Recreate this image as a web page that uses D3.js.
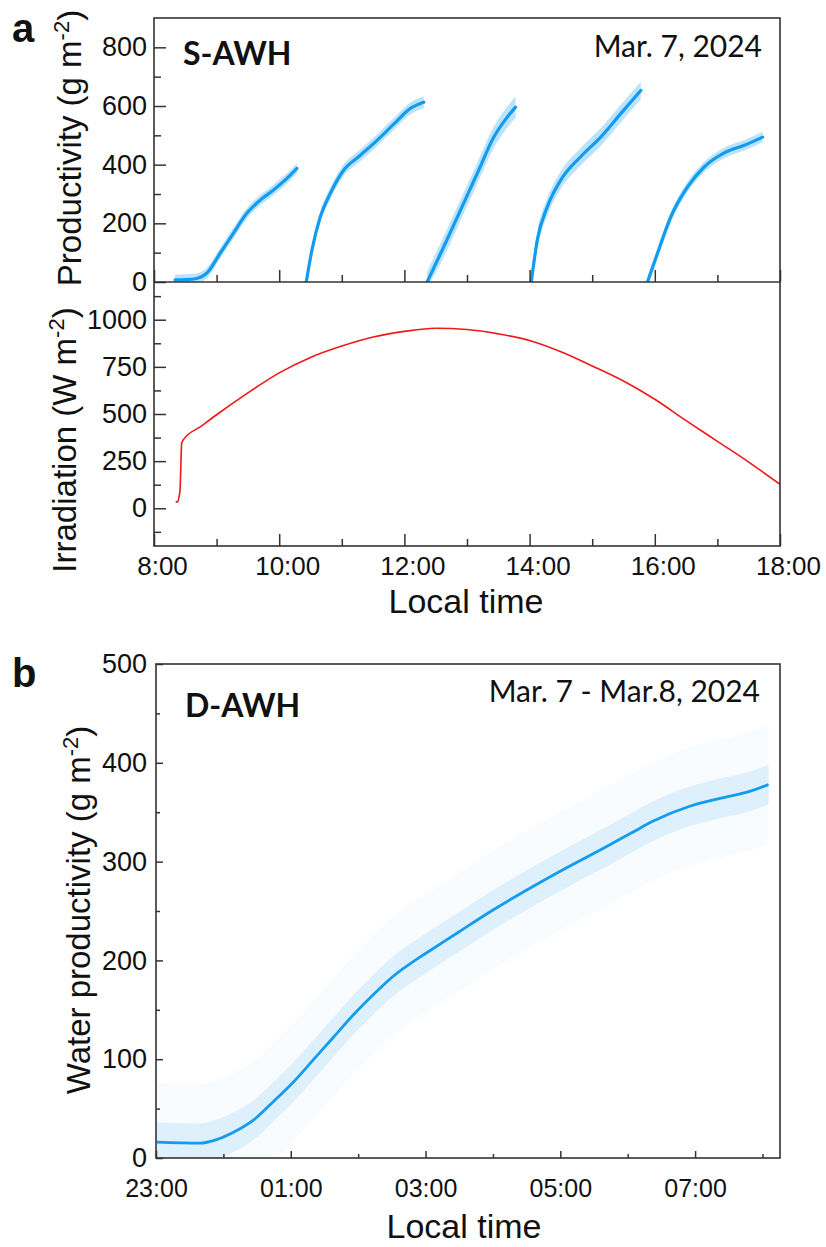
<!DOCTYPE html>
<html>
<head>
<meta charset="utf-8">
<script src="https://cdn.jsdelivr.net/npm/d3@7"></script>
<style>
  html, body { margin: 0; padding: 0; background: #fff; }
  svg { display: block; }
</style>
</head>
<body>
<script>
// ---------------- DATA ----------------
// Panel a, top: S-AWH productivity cycles (time in hours, value in g m^-2)
const cycle1T = [8.336, 8.50, 8.683, 8.843, 9.056, 9.264, 9.483, 9.696, 9.904, 10.123, 10.283];
const cycle1V = [7, 8, 12, 30, 98, 165, 234, 279, 313, 353, 387];
const cycle2T = [10.432, 10.523, 10.656, 10.816, 11.029, 11.296, 11.563, 11.829, 12.096, 12.309];
const cycle2V = [0, 109, 222, 302, 381, 432, 483, 538, 592, 613];
const cycle3T = [12.363, 12.629, 12.896, 13.163, 13.429, 13.643, 13.776];
const cycle3V = [0, 120, 245, 370, 494, 562, 596];
const cycle4T = [14.027, 14.123, 14.283, 14.496, 14.816, 15.136, 15.456, 15.776];
const cycle4V = [0, 143, 256, 347, 427, 494, 574, 653];
const cycle5T = [15.883, 16.043, 16.256, 16.523, 16.789, 17.109, 17.429, 17.723];
const cycle5V = [0, 98, 222, 324, 392, 440, 466, 494];
// half-width of the scatter cloud around each fitted cycle (g m^-2)
const cycleSpread = [18, 20, 36, 30, 18];

// Panel a, bottom: irradiation (W m^-2)
const irrT = [8.347, 8.379, 8.40, 8.416, 8.443, 8.47, 8.75, 9.0, 9.5, 10.0, 10.5, 11.0, 11.5, 12.0, 12.5, 13.0, 13.5, 14.0, 14.5, 15.0, 15.5, 16.0, 16.5, 17.0, 17.5, 18.0];
const irrV = [34, 34, 60, 99, 346, 364, 434, 496, 612, 718, 800, 860, 908, 938, 955, 948, 925, 890, 830, 755, 675, 578, 465, 355, 245, 127];

// Panel b: D-AWH water productivity (hours after 23:00, g m^-2)
const dT = [0.01, 0.65, 0.9, 1.15, 1.44, 1.74, 2.04, 2.33, 2.63, 2.93, 3.22, 3.52, 3.8, 4.0, 4.5, 5.0, 5.6, 6.1, 6.6, 7.08, 7.38, 7.92, 8.37, 8.81, 9.09];
const dV = [16, 15, 18.6, 26, 38, 57, 77, 99, 122, 145, 165, 184, 198, 207, 229, 251, 275, 294, 312, 330, 341, 356, 364, 371, 378];
const dSpreadInner = 20;
const dSpreadOuter = 60;

// Tick values / labels
const xMajorA = [8, 10, 12, 14, 16, 18];
const xMajorLabelsA = ["8:00", "10:00", "12:00", "14:00", "16:00", "18:00"];
const xMinorA = [9, 11, 13, 15, 17];
const yMajorP = [0, 200, 400, 600, 800];
const yMinorP = [100, 300, 500, 700];
const yMajorI = [0, 250, 500, 750, 1000];
const yMinorI = [-125, 125, 375, 625, 875, 1125];
const xMajorB = [0, 2, 4, 6, 8];
const xMajorLabelsB = ["23:00", "01:00", "03:00", "05:00", "07:00"];
const xMinorB = [1, 3, 5, 7, 9];
const yMajorB = [0, 100, 200, 300, 400, 500];
const yMinorB = [50, 150, 250, 350, 450];

// ---------------- LAYOUT ----------------
const W = 826, H = 1247;
const A = { left: 154, right: 780, top: 18, mid: 282, bottom: 546 };
const B = { left: 156, right: 780, top: 664, bottom: 1158 };

const FIT = "#119cf0";
const DOT = "#b5e0fb";
const DOTB = "#c3e4fa";
const AXC = "#333";
const ARIAL = "'Liberation Sans', Arial, sans-serif";
const CALIBRI = "Lato, 'Open Sans', sans-serif";
const fmt = d3.format("d");

const svg = d3.select("body").append("svg").attr("width", W).attr("height", H);

const xA = d3.scaleLinear().domain([8, 18]).range([A.left, A.right]);
const yP = d3.scaleLinear().domain([0, 900]).range([A.mid, A.top]);
const yI = d3.scaleLinear().domain([-200, 1200]).range([A.bottom, A.mid]);
const xB = d3.scaleLinear().domain([0, 9.26]).range([B.left, B.right]);
const yB = d3.scaleLinear().domain([0, 500]).range([B.bottom, B.top]);

function styleAxis(g, fs) {
  g.attr("font-family", ARIAL).attr("font-size", fs);
  g.select(".domain").remove();
  g.selectAll(".tick line").attr("stroke", AXC).attr("stroke-width", 1.5);
  g.selectAll(".tick text").attr("fill", "#111");
}

// clip paths
svg.append("clipPath").attr("id", "clipP").append("rect")
  .attr("x", A.left).attr("y", A.top).attr("width", A.right - A.left).attr("height", A.mid - A.top);
svg.append("clipPath").attr("id", "clipI").append("rect")
  .attr("x", A.left).attr("y", A.mid).attr("width", A.right - A.left).attr("height", A.bottom - A.mid);
svg.append("clipPath").attr("id", "clipB").append("rect")
  .attr("x", B.left).attr("y", B.top).attr("width", B.right - B.left).attr("height", B.bottom - B.top);

// ---------------- PANEL a, TOP ----------------
const cycles = [[cycle1T, cycle1V], [cycle2T, cycle2V], [cycle3T, cycle3V], [cycle4T, cycle4V], [cycle5T, cycle5V]];
const gP = svg.append("g").attr("clip-path", "url(#clipP)");
cycles.forEach(([T, V], i) => {
  const pts = T.map((t, j) => ({ t, v: V[j] }));
  const s = cycleSpread[i];
  const area = d3.area().curve(d3.curveMonotoneX)
    .x(d => xA(d.t)).y0(d => yP(Math.max(d.v - s, -20))).y1(d => yP(d.v + s));
  gP.append("path").datum(pts).attr("d", area).attr("fill", DOT).attr("opacity", 0.9);
  const line = d3.line().curve(d3.curveMonotoneX).x(d => xA(d.t)).y(d => yP(d.v));
  gP.append("path").datum(pts).attr("d", line).attr("fill", "none")
    .attr("stroke", FIT).attr("stroke-width", 3.2).attr("stroke-linecap", "round");
});

// ---------------- PANEL a, BOTTOM ----------------
const irr = irrT.map((t, j) => ({ t, v: irrV[j] }));
svg.append("g").attr("clip-path", "url(#clipI)").append("path").datum(irr)
  .attr("d", d3.line().curve(d3.curveMonotoneX).x(d => xA(d.t)).y(d => yI(d.v)))
  .attr("fill", "none").attr("stroke", "#f01818").attr("stroke-width", 1.6);

// axes panel a: x ticks on the bottom of each sub-panel, pointing inward (up)
[A.mid, A.bottom].forEach((yy, k) => {
  const gMaj = svg.append("g").attr("transform", `translate(0,${yy})`)
    .call(d3.axisBottom(xA).tickValues(xMajorA).tickSizeInner(-12).tickSizeOuter(0)
      .tickPadding(11)
      .tickFormat((d, i) => k === 1 ? xMajorLabelsA[i] : ""));
  styleAxis(gMaj, 26);
  gMaj.selectAll(".tick text").attr("dx", 8);
  const gMin = svg.append("g").attr("transform", `translate(0,${yy})`)
    .call(d3.axisBottom(xA).tickValues(xMinorA).tickSizeInner(-7).tickSizeOuter(0).tickFormat(""));
  styleAxis(gMin, 26);
});
// y axes
const gyP = svg.append("g").attr("transform", `translate(${A.left},0)`)
  .call(d3.axisLeft(yP).tickValues(yMajorP).tickFormat(fmt).tickSizeInner(-12).tickSizeOuter(0));
styleAxis(gyP, 27);
gyP.selectAll(".tick text").attr("x", -7);
styleAxis(svg.append("g").attr("transform", `translate(${A.left},0)`)
  .call(d3.axisLeft(yP).tickValues(yMinorP).tickSizeInner(-7).tickSizeOuter(0).tickFormat("")), 27);
const gyI = svg.append("g").attr("transform", `translate(${A.left},0)`)
  .call(d3.axisLeft(yI).tickValues(yMajorI).tickFormat(fmt).tickSizeInner(-12).tickSizeOuter(0));
styleAxis(gyI, 27);
gyI.selectAll(".tick text").attr("x", -7);
styleAxis(svg.append("g").attr("transform", `translate(${A.left},0)`)
  .call(d3.axisLeft(yI).tickValues(yMinorI).tickSizeInner(-7).tickSizeOuter(0).tickFormat("")), 27);

// frames
svg.append("rect").attr("x", A.left).attr("y", A.top).attr("width", A.right - A.left).attr("height", A.bottom - A.top)
  .attr("fill", "none").attr("stroke", AXC).attr("stroke-width", 1.6);
svg.append("line").attr("x1", A.left).attr("x2", A.right).attr("y1", A.mid).attr("y2", A.mid)
  .attr("stroke", AXC).attr("stroke-width", 1.6);

// texts panel a
svg.append("text").attr("x", 12).attr("y", 42).text("a")
  .attr("font-family", ARIAL).attr("font-weight", "bold").attr("font-size", 40).attr("fill", "#111");
svg.append("text").attr("x", 183).attr("y", 65).text("S-AWH")
  .attr("font-family", CALIBRI).attr("font-weight", "bold").attr("font-size", 32).attr("fill", "#111");
svg.append("text").attr("x", 762).attr("y", 57).attr("text-anchor", "end").text("Mar. 7, 2024")
  .attr("font-family", CALIBRI).attr("font-size", 30).attr("fill", "#111");

function yTitle(x, y, main, unit) {
  const t = svg.append("text").attr("transform", `translate(${x},${y}) rotate(-90)`)
    .attr("text-anchor", "middle").attr("font-family", ARIAL).attr("font-size", 33).attr("fill", "#111");
  t.append("tspan").text(main + " (" + unit + " m");
  t.append("tspan").attr("dy", -12).attr("font-size", 22).text("-2");
  t.append("tspan").attr("dy", 12).text(")");
}
yTitle(81, 148, "Productivity", "g");
yTitle(76, 440, "Irradiation", "W");

svg.append("text").attr("x", 466).attr("y", 613).attr("text-anchor", "middle").text("Local time")
  .attr("font-family", ARIAL).attr("font-size", 34).attr("fill", "#111");

// ---------------- PANEL b ----------------
const dpts = dT.map((t, j) => ({ t, v: dV[j] }));
const gB = svg.append("g").attr("clip-path", "url(#clipB)");
gB.append("path").datum(dpts)
  .attr("d", d3.area().curve(d3.curveMonotoneX).x(d => xB(d.t))
    .y0(d => yB(d.v - dSpreadOuter)).y1(d => yB(d.v + dSpreadOuter)))
  .attr("fill", DOTB).attr("opacity", 0.1);
gB.append("path").datum(dpts)
  .attr("d", d3.area().curve(d3.curveMonotoneX).x(d => xB(d.t))
    .y0(d => yB(d.v - dSpreadInner)).y1(d => yB(d.v + dSpreadInner)))
  .attr("fill", DOTB).attr("opacity", 0.5);
gB.append("path").datum(dpts)
  .attr("d", d3.line().curve(d3.curveMonotoneX).x(d => xB(d.t)).y(d => yB(d.v)))
  .attr("fill", "none").attr("stroke", FIT).attr("stroke-width", 2.8);

const gxB = svg.append("g").attr("transform", `translate(0,${B.bottom})`)
  .call(d3.axisBottom(xB).tickValues(xMajorB).tickSizeInner(-7).tickSizeOuter(0).tickPadding(21)
    .tickFormat((d, i) => xMajorLabelsB[i]));
styleAxis(gxB, 25);
styleAxis(svg.append("g").attr("transform", `translate(0,${B.bottom})`)
  .call(d3.axisBottom(xB).tickValues(xMinorB).tickSizeInner(-4).tickSizeOuter(0).tickFormat("")), 25);
const gyB = svg.append("g").attr("transform", `translate(${B.left},0)`)
  .call(d3.axisLeft(yB).tickValues(yMajorB).tickFormat(fmt).tickSizeInner(-7).tickSizeOuter(0));
styleAxis(gyB, 27);
gyB.selectAll(".tick text").attr("x", -9);
styleAxis(svg.append("g").attr("transform", `translate(${B.left},0)`)
  .call(d3.axisLeft(yB).tickValues(yMinorB).tickSizeInner(-4).tickSizeOuter(0).tickFormat("")), 27);

svg.append("rect").attr("x", B.left).attr("y", B.top).attr("width", B.right - B.left).attr("height", B.bottom - B.top)
  .attr("fill", "none").attr("stroke", AXC).attr("stroke-width", 1.6);

svg.append("text").attr("x", 12).attr("y", 687).text("b")
  .attr("font-family", ARIAL).attr("font-weight", "bold").attr("font-size", 40).attr("fill", "#111");
svg.append("text").attr("x", 185).attr("y", 717).text("D-AWH")
  .attr("font-family", CALIBRI).attr("font-weight", "bold").attr("font-size", 32).attr("fill", "#111");
svg.append("text").attr("x", 760).attr("y", 702).attr("text-anchor", "end").text("Mar. 7 - Mar.8, 2024")
  .attr("font-family", CALIBRI).attr("font-size", 30).attr("fill", "#111");

yTitle(90, 910, "Water productivity", "g");

svg.append("text").attr("x", 464).attr("y", 1238).attr("text-anchor", "middle").text("Local time")
  .attr("font-family", ARIAL).attr("font-size", 34).attr("fill", "#111");
</script>
</body>
</html>
